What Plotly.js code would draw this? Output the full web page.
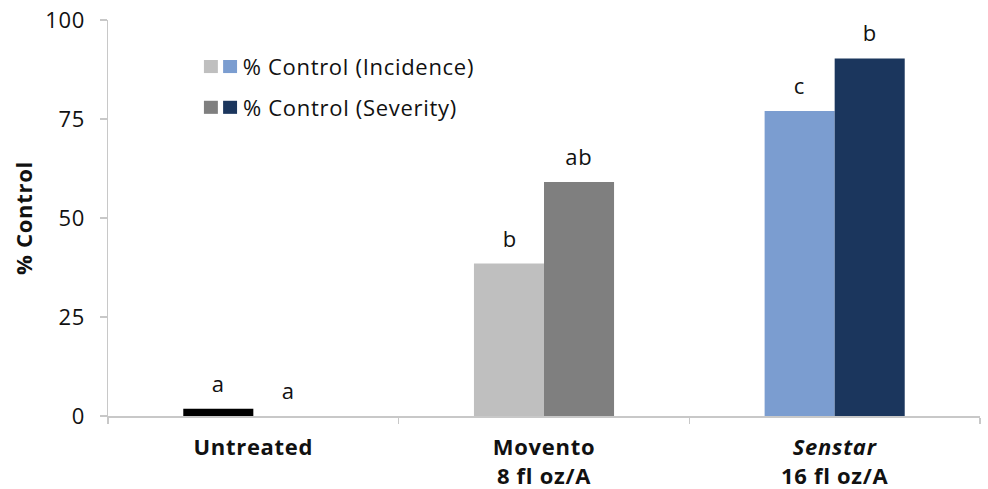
<!DOCTYPE html>
<html>
<head>
<meta charset="utf-8">
<script src="https://cdn.plot.ly/plotly-3.0.1.min.js"></script>
<style>html,body{margin:0;padding:0;background:#fff;}#chart{width:988px;height:489px;}
#chart svg text{letter-spacing:0.7px;}</style>
</head>
<body>
<div id="chart"></div>
<script>
const categories = ["Untreated", "Movento<br>8 fl oz/A", "<i>Senstar</i><br>16 fl oz/A"];
const incidence = [1.8, 38.5, 77.0];
const severity = [0, 59.1, 90.3];
const incidenceLetters = ["a", "b", "c"];
const severityLetters = ["a", "ab", "b"];
const incidenceColors = ["#000000", "#BFBFBF", "#7B9DD0"];
const severityColors = ["#000000", "#7F7F7F", "#1B365D"];
const yTicks = [0, 25, 50, 75, 100];
const legendNames = ["% Control (Incidence)", "% Control (Severity)"];

const FONT = "'Open Sans', Lato, sans-serif";
const FS = 22;

const traces = [
  {type: "bar", x: categories, y: incidence, name: legendNames[0], marker: {color: incidenceColors}, showlegend: false, hoverinfo: "skip"},
  {type: "bar", x: categories, y: severity, name: legendNames[1], marker: {color: severityColors}, showlegend: false, hoverinfo: "skip"}
];

const annotations = [];
categories.forEach((c, i) => {
  annotations.push({x: c, y: incidence[i], xref: "x", yref: "y", text: incidenceLetters[i], showarrow: false,
    xshift: -35, yanchor: "bottom", yshift: 9, font: {size: FS, color: "#111", family: FONT}});
  annotations.push({x: c, y: severity[i], xref: "x", yref: "y", text: severityLetters[i], showarrow: false,
    xshift: 35, yanchor: "bottom", yshift: 9, font: {size: FS, color: "#111", family: FONT}});
});

// manual legend with dual swatches
const shapes = [];
const rows = [{y0: 0.866, y1: 0.899, yc: 0.885, c: [incidenceColors[1], incidenceColors[2]], t: legendNames[0]},
              {y0: 0.763, y1: 0.796, yc: 0.781, c: [severityColors[1], severityColors[2]], t: legendNames[1]}];
rows.forEach(r => {
  shapes.push({type: "rect", xref: "paper", yref: "paper", x0: 0.110, x1: 0.126, y0: r.y0, y1: r.y1, fillcolor: r.c[0], line: {width: 0}});
  shapes.push({type: "rect", xref: "paper", yref: "paper", x0: 0.132, x1: 0.148, y0: r.y0, y1: r.y1, fillcolor: r.c[1], line: {width: 0}});
  annotations.push({xref: "paper", yref: "paper", x: 0.160, y: r.yc, xanchor: "left", yanchor: "middle", text: r.t,
    showarrow: false, font: {size: FS, color: "#111", family: FONT}});
});

const layout = {
  width: 988, height: 489,
  margin: {l: 108, r: 8, t: 20, b: 72.5},
  paper_bgcolor: "#fff", plot_bgcolor: "#fff",
  barmode: "group", bargap: 0.518, bargroupgap: 0,
  font: {family: FONT, size: FS, color: "#111"},
  xaxis: {
    type: "category", showline: true, linecolor: "#C8C8C8", linewidth: 1.5,
    ticks: "outside", tickson: "boundaries", ticklen: 6, tickcolor: "#C8C8C8", tickwidth: 1.5,
    tickfont: {size: FS, family: FONT, color: "#111", weight: "bold"}, ticklabelstandoff: 11,
    showgrid: false, zeroline: false, fixedrange: true
  },
  yaxis: {
    range: [0, 100], tickvals: yTicks, ticktext: yTicks.map(String),
    showline: true, linecolor: "#C8C8C8", linewidth: 1.5,
    ticks: "outside", ticklen: 7, tickcolor: "#C8C8C8", tickwidth: 1.5,
    tickfont: {size: FS, family: FONT, color: "#111"}, ticklabelstandoff: 10,
    showgrid: false, zeroline: false, fixedrange: true,
    title: {text: "% Control", font: {size: FS, family: FONT, color: "#111", weight: "bold"}, standoff: 8}
  },
  shapes: shapes,
  annotations: annotations
};

Plotly.newPlot("chart", traces, layout, {displayModeBar: false, staticPlot: true});
</script>
</body>
</html>
